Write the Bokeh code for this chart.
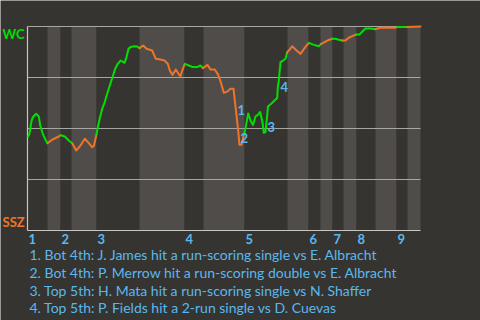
from bokeh.plotting import figure
from bokeh.models import Range1d, ColumnDataSource
from bokeh.core.properties import value
from bokeh.embed import file_html
from bokeh.resources import INLINE

# ---- data -------------------------------------------------------------
teams = ["WC", "SSZ"]
# game progress (0..393) and WC win probability
prog = [0.7, 2, 4, 5.3, 8.7, 11.3, 12.7, 15.3, 18, 20,
        24.7, 29.7, 33.3, 37.3, 41.3, 44.7, 48.7, 53, 57.3, 61.3,
        64.7, 66.5, 69, 70.5, 72.5, 74.7, 77, 79.7, 82.3, 85,
        87.7, 90.3, 93, 95, 97, 99, 101, 103, 107, 109.7,
        112, 115.7, 119, 124.7, 128.3, 133, 137, 140.3, 142.3, 145,
        148.3, 151, 153, 154.7, 157.3, 161.3, 165.3, 169.7, 173, 175.3,
        180, 183, 187.3, 190.7, 193.3, 196.3, 199.7, 203, 206, 207.5,
        209, 210.7, 212, 214, 216.5, 218, 220.7, 223, 225.5, 228,
        230.3, 232.7, 235, 236.3, 238, 239.7, 240.5, 244, 247, 249.7,
        250.3, 251.3, 253, 255.7, 258, 259.7, 261.3, 264.7, 269, 273,
        277, 281.3, 286.3, 291.3, 293.7, 298, 301.3, 304.7, 308, 311.3,
        314.7, 318, 321.3, 325.3, 328.7, 332, 334.7, 338, 343, 348,
        353, 358, 363, 368, 369.7, 379.7, 393]
wp = [0.461, 0.475, 0.536, 0.555, 0.572, 0.559, 0.515, 0.474, 0.445, 0.428,
      0.445, 0.457, 0.467, 0.461, 0.441, 0.428, 0.392, 0.417, 0.450, 0.428,
      0.408, 0.417, 0.471, 0.510, 0.554, 0.597, 0.626, 0.670, 0.711, 0.751,
      0.793, 0.817, 0.833, 0.828, 0.822, 0.850, 0.891, 0.899, 0.903, 0.902,
      0.894, 0.907, 0.891, 0.882, 0.842, 0.838, 0.833, 0.817, 0.784, 0.763,
      0.789, 0.768, 0.756, 0.784, 0.817, 0.809, 0.801, 0.801, 0.809, 0.796,
      0.812, 0.789, 0.789, 0.763, 0.727, 0.675, 0.681, 0.695, 0.695, 0.629,
      0.564, 0.490, 0.420, 0.420, 0.471, 0.501, 0.574, 0.539, 0.517, 0.559,
      0.567, 0.581, 0.531, 0.479, 0.482, 0.564, 0.608, 0.623, 0.637, 0.649,
      0.702, 0.735, 0.825, 0.833, 0.842, 0.874, 0.882, 0.903, 0.882, 0.866,
      0.894, 0.920, 0.910, 0.903, 0.915, 0.926, 0.934, 0.940, 0.940, 0.935,
      0.931, 0.931, 0.945, 0.954, 0.961, 0.961, 0.974, 0.990, 0.990, 0.987,
      0.994, 0.995, 0.994, 0.994, 0.997, 0.997, 1.0]
# half-inning boundaries (top halves: WC batting)
half_bounds = [0, 20, 33, 44, 69, 112, 157, 176, 217, 260, 281, 293,
               305, 316, 329, 348, 369, 380, 393]
inning_labels = ["1", "2", "3", "4", "5", "6", "7", "8", "9"]
grid_vals = [0.25, 0.5, 0.75, 1.0]
# key events (label anchor positions)
event_ids = ["1", "2", "3", "4"]
event_x = [210, 213, 240, 253]
event_wp = [0.593, 0.454, 0.507, 0.701]
event_texts = [
    "1. Bot 4th: J. James hit a run-scoring single vs E. Albracht",
    "2. Bot 4th: P. Merrow hit a run-scoring double vs E. Albracht",
    "3. Top 5th: H. Mata hit a run-scoring single vs N. Shaffer",
    "4. Top 5th: P. Fields hit a 2-run single vs D. Cuevas",
]

# ---- layout / style ---------------------------------------------------
W, H = 480, 320
L, T, PW, PH = 27, 26, 393, 204   # plot area in pixels


def dx(px):
    return px - L


def dy(py):
    return (T + PH - py) / PH


BG = "#363430"
LIGHT = "#4f4c49"
GREEN = "#00e000"
ORANGE = "#f07428"
BLUE = "#5ab8ee"
FONT = value("Lato")

p = figure(width=W, height=H, x_range=Range1d(dx(0), dx(W)),
           y_range=Range1d(dy(H), dy(0)), output_backend="svg",
           toolbar_location=None, min_border=0, title=None,
           x_axis_location=None, y_axis_location=None)
p.grid.visible = False
p.outline_line_color = None
p.background_fill_color = BG
p.border_fill_color = BG

# half-inning bands
lefts = half_bounds[:-1]
rights = half_bounds[1:]
cols = [BG if i % 2 == 0 else LIGHT for i in range(len(lefts))]
p.quad(left=lefts, right=rights, bottom=0, top=1, fill_color=cols,
       line_color=None)

# grid lines and axes
end = half_bounds[-1]
p.segment(x0=[0] * len(grid_vals), x1=[end] * len(grid_vals), y0=grid_vals,
          y1=grid_vals, line_color="#a8a6a3", line_width=1)
p.segment(x0=[0, 0], x1=[0, end], y0=[0, 0], y1=[1, 0],
          line_color="#c8c6c3", line_width=1.2)

# win probability line coloured by half-inning
runs = []
for i in range(len(prog) - 1):
    xm = (prog[i] + prog[i + 1]) / 2
    b = 0
    for k in range(len(half_bounds) - 1):
        if half_bounds[k] <= xm < half_bounds[k + 1]:
            b = k
    if runs and runs[-1][0] == b:
        runs[-1][1].append(prog[i + 1])
        runs[-1][2].append(wp[i + 1])
    else:
        runs.append([b, [prog[i], prog[i + 1]], [wp[i], wp[i + 1]]])
p.multi_line(xs=[r[1] for r in runs], ys=[r[2] for r in runs],
             line_color=[GREEN if r[0] % 2 == 0 else ORANGE for r in runs],
             line_width=2, line_join="round", line_cap="round")

# team labels
p.text(x=[dx(2), dx(2)], y=[1.0 - dy(T) + dy(33), dy(221)], text=teams,
       text_color=[GREEN, ORANGE], text_font=FONT,
       text_font_size=value("13px"), text_font_style="bold",
       text_align="left", text_baseline="middle")

# inning labels
inning_x = [half_bounds[i] for i in range(0, len(half_bounds) - 1, 2)]
p.text(x=inning_x, y=[dy(238.5)] * len(inning_x), text=inning_labels,
       text_color=BLUE, text_font=FONT, text_font_size=value("13px"),
       text_font_style="bold", text_align="left", text_baseline="middle",
       x_offset=1)

# event markers
p.text(x=event_x, y=event_wp, text=event_ids, text_color=BLUE,
       text_font=FONT, text_font_size=value("13px"), text_font_style="bold",
       text_align="left", text_baseline="middle")

# event descriptions
p.text(x=[dx(29)] * len(event_texts),
       y=[dy(254.3 + 17.6 * i) for i in range(len(event_texts))],
       text=event_texts, text_color=BLUE, text_font=FONT,
       text_font_size=value("14px"), text_align="left",
       text_baseline="middle")

open("out.html", "w").write(file_html(p, INLINE))
